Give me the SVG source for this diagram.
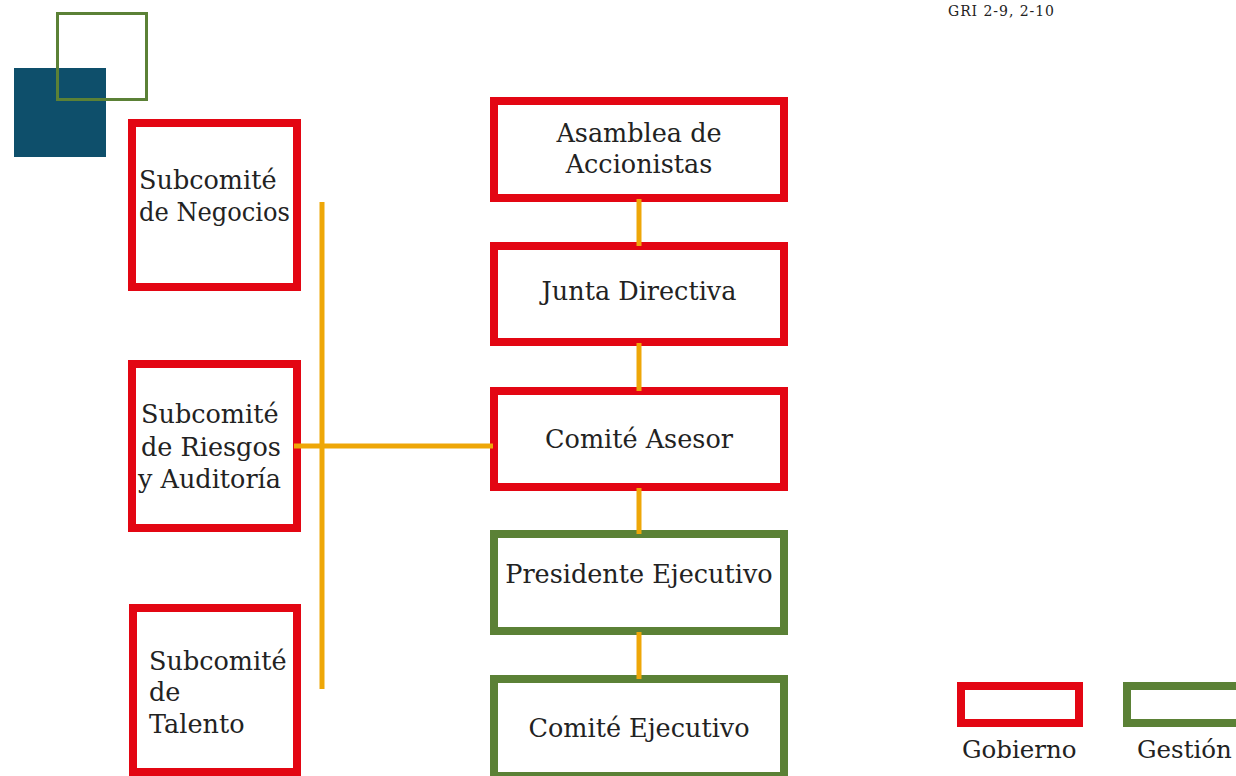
<svg xmlns="http://www.w3.org/2000/svg" width="1236" height="776" viewBox="0 0 1236 776">
<style>
.gob{fill:#fff;stroke:#e30613;stroke-width:8}
.ges{fill:#fff;stroke:#5b8136;stroke-width:8}
.t{font-family:"DejaVu Serif","Liberation Serif",serif;font-size:25.5px;fill:#222}
.lg{font-size:24.5px}
.c{text-anchor:middle}
.ln{stroke:#eea708;stroke-width:5;fill:none}
</style>
<rect width="1236" height="776" fill="#fff"/>
<g id="deco">
<rect x="14" y="68" width="92" height="89" fill="#0e4f6b"/>
<rect x="57.5" y="13.5" width="89" height="86" fill="none" stroke="#5b8136" stroke-width="3"/>
</g>
<text class="t" x="948" y="16" style="font-size:14px" textLength="106">GRI 2-9, 2-10</text>
<g id="sub-negocios">
<rect class="gob" x="132" y="123" width="165" height="164"/>
<text class="t" x="139" y="189">Subcomité</text>
<text class="t" x="139" y="221" textLength="151" lengthAdjust="spacingAndGlyphs">de Negocios</text>
</g>
<g id="sub-riesgos">
<rect class="gob" x="132" y="364" width="165" height="164"/>
<text class="t" x="141" y="423">Subcomité</text>
<text class="t" x="141" y="456">de Riesgos</text>
<text class="t" x="138" y="488">y Auditoría</text>
</g>
<g id="sub-talento">
<rect class="gob" x="133" y="608" width="164" height="164"/>
<text class="t" x="149" y="670">Subcomité</text>
<text class="t" x="149" y="701">de</text>
<text class="t" x="149" y="733">Talento</text>
</g>
<g id="asamblea">
<rect class="gob" x="494" y="101" width="290" height="97"/>
<text class="t c" x="639" y="142">Asamblea de</text>
<text class="t c" x="639" y="173">Accionistas</text>
</g>
<g id="junta">
<rect class="gob" x="494" y="246" width="290" height="96"/>
<text class="t c" x="639" y="300">Junta Directiva</text>
</g>
<g id="comite-asesor">
<rect class="gob" x="494" y="391" width="290" height="96"/>
<text class="t c" x="639" y="448">Comité Asesor</text>
</g>
<g id="presidente">
<rect class="ges" x="494" y="534" width="290" height="97"/>
<text class="t c" x="639" y="583">Presidente Ejecutivo</text>
</g>
<g id="comite-ejecutivo">
<rect class="ges" x="494" y="679" width="290" height="97"/>
<text class="t c" x="639" y="737">Comité Ejecutivo</text>
</g>
<g id="connectors">
<line class="ln" x1="639" y1="199" x2="639" y2="246"/>
<line class="ln" x1="639" y1="343" x2="639" y2="391"/>
<line class="ln" x1="639" y1="488" x2="639" y2="534"/>
<line class="ln" x1="639" y1="632" x2="639" y2="679"/>
<line class="ln" x1="322" y1="202" x2="322" y2="689"/>
<line class="ln" x1="294" y1="446" x2="493" y2="446"/>
</g>
<g id="legend">
<rect class="gob" x="961" y="686" width="118" height="37"/>
<text class="t lg" x="962" y="758">Gobierno</text>
<rect class="ges" x="1127" y="686" width="118" height="37"/>
<text class="t lg" x="1137" y="758">Gestión</text>
</g>
</svg>
